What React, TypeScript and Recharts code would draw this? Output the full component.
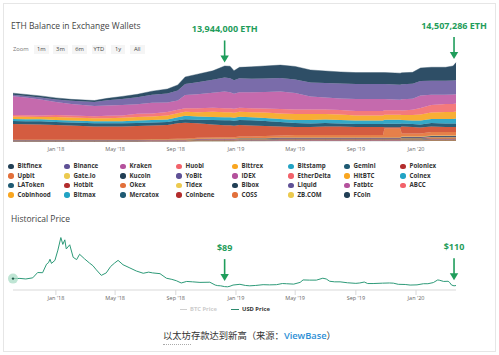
import React from "react";
import { AreaChart, Area, XAxis, YAxis, LineChart, Line, ReferenceDot } from "recharts";

const FONT = "'Open Sans', 'Noto Sans', sans-serif";
const CJK = "'Noto Sans CJK SC', 'Open Sans', sans-serif";
const GREEN = "#1f9d5b";

// ---------- ETH balance (millions of ETH) ----------
const balanceDates = [
  "2017-10-06","2017-11-01","2017-12-01","2018-01-01","2018-02-01","2018-03-20","2018-04-15","2018-05-15","2018-06-15","2018-07-15",
  "2018-08-15","2018-09-05","2018-09-20","2018-10-15","2018-11-15","2018-12-09","2018-12-20","2018-12-28","2019-01-08","2019-02-01",
  "2019-03-01","2019-04-01","2019-05-01","2019-06-01","2019-07-01","2019-08-01","2019-09-01","2019-10-01","2019-10-26","2019-10-29",
  "2019-11-30","2019-12-03","2019-12-25","2020-01-10","2020-02-01","2020-03-01","2020-03-16","2020-03-22",
];

const exchanges = [
  "Bitfinex","Binance","Kraken","Huobi","Bittrex","Bitstamp","Gemini","Poloniex",
  "Upbit","Gate.io","Kucoin","YoBit","IDEX","EtherDelta","HitBTC","Coinex",
  "LAToken","Hotbit","Okex","Tidex","Bibox","Liquid","Fatbtc","ABCC",
  "Cobinhood","Bitmax","Mercatox","Coinbene","COSS","ZB.COM","FCoin",
];

const dotColors = [
  "#213f55","#5f5196","#b4519c","#f2626a","#f9a620","#22a3c4","#1f5a73","#b32d2d",
  "#e2703b","#ecca4f","#213f55","#5f5196","#b4519c","#f2626a","#f9a620","#22a3c4",
  "#1f5a73","#b32d2d","#e2703b","#ecca4f","#213f55","#5f5196","#b4519c","#f2626a",
  "#f9a620","#22a3c4","#1f5a73","#b32d2d","#e2703b","#ecca4f","#213f55",
];

const areaColors = [
  "#2e4e66","#7a6caa","#c56aad","#f47a7c","#f8ae35","#34a9c8","#2a5f78","#d45c40",
  "#e6804a","#eccf62","#2e4e66","#7a6caa","#c56aad","#f47a7c","#f8ae35","#34a9c8",
  "#2a5f78","#d45c40","#e6804a","#eccf62","#2e4e66","#7a6caa","#c56aad","#f47a7c",
  "#f8ae35","#34a9c8","#2a5f78","#d45c40","#e6804a","#eccf62","#2e4e66",
];

const bitfinex = [
  0.28,0.28,0.28,0.28,0.28,0.28,0.37,0.46,0.56,0.65,
  0.83,1.02,1.30,1.48,1.67,2.13,2.22,1.76,2.04,2.22,
  2.31,2.41,2.41,2.31,2.22,2.13,2.09,2.13,2.13,2.13,
  2.13,2.13,2.13,2.41,2.50,2.50,2.68,3.26,
];
const binance = [
  0.28,0.28,0.37,0.46,0.56,0.74,0.93,1.11,1.30,1.48,
  1.67,1.85,2.04,2.22,2.41,2.59,2.59,2.50,2.59,2.50,
  2.50,2.50,2.50,2.59,2.68,2.78,2.78,2.78,2.78,2.78,
  2.78,2.78,2.78,2.68,2.59,2.59,2.59,2.59,
];
const kraken = [
  3.46,3.29,2.96,2.41,2.13,1.91,1.94,1.94,1.76,2.00,
  1.76,1.72,2.46,2.59,2.78,3.10,2.96,2.78,2.87,2.96,
  3.05,3.20,3.05,2.41,2.22,2.13,2.22,2.18,2.18,2.09,
  1.98,2.07,2.04,2.31,1.89,1.70,1.76,1.70,
];
const huobi = [
  0.28,0.28,0.28,0.37,0.37,0.37,0.46,0.46,0.56,0.56,
  0.65,0.65,0.65,0.74,0.74,0.74,0.74,0.74,0.74,0.74,
  0.74,0.83,0.83,0.83,0.83,0.83,0.83,0.83,0.83,0.83,
  0.83,0.83,0.93,1.20,1.39,1.48,1.48,1.48,
];
const bittrex = [
  0.46,0.46,0.46,0.56,0.56,0.56,0.56,0.65,0.65,0.65,
  0.74,0.74,0.74,0.83,0.93,0.93,0.93,0.93,0.93,0.93,
  1.02,1.02,1.11,1.11,1.02,1.02,0.93,0.93,0.93,0.93,
  0.93,0.93,1.02,1.11,1.20,1.30,1.30,1.30,
];
const bitstamp = [
  0.37,0.37,0.37,0.37,0.37,0.37,0.37,0.37,0.46,0.46,
  0.46,0.56,0.65,0.56,0.56,0.56,0.56,0.56,0.56,0.56,
  0.56,0.56,0.56,0.65,0.65,0.65,0.65,0.65,0.65,0.74,
  0.74,0.65,0.65,0.74,0.74,0.83,0.83,0.93,
];
const gemini = [
  0.56,0.56,0.56,0.56,0.56,0.56,0.56,0.56,0.56,0.56,
  0.56,0.56,0.65,0.65,0.83,0.93,0.93,0.93,0.93,0.93,
  0.93,0.83,0.74,0.65,0.65,0.56,0.56,0.56,0.56,0.65,
  0.65,0.56,0.56,0.56,0.65,0.65,0.65,0.65,
];
const poloniex = [
  2.87,2.81,2.78,2.68,2.59,2.41,2.41,2.41,2.50,2.50,
  2.59,2.87,2.96,2.68,2.41,2.22,2.22,2.13,2.13,2.04,
  1.85,1.67,1.48,1.48,1.57,1.57,1.48,1.48,1.48,0.19,
  0.19,1.30,1.20,1.11,1.02,0.93,0.93,0.93,
];
const upbit = [
  0.09,0.09,0.09,0.09,0.09,0.09,0.09,0.09,0.09,0.09,
  0.09,0.13,0.13,0.19,0.19,0.22,0.22,0.22,0.28,0.28,
  0.37,0.37,0.46,0.46,0.46,0.46,0.46,0.46,0.46,1.67,
  1.67,0.56,0.56,0.56,0.65,0.65,0.65,0.65,
];
const gateio = [
  0.03,0.03,0.03,0.03,0.03,0.03,0.03,0.03,0.03,
  0.04,0.04,0.04,0.04,
  0.05,0.06,0.06,0.06,0.06,
  0.07,0.07,0.07,
  0.08,0.08,0.08,0.08,0.08,0.08,0.08,0.08,0.08,0.08,
  0.09,0.10,0.10,
  0.12,0.12,0.12,0.12,
];
const kucoin = [
  0.01,0.01,0.01,0.01,0.01,0.01,0.01,0.01,0.01,
  0.02,0.02,0.02,0.02,
  0.03,0.04,0.04,0.04,0.04,
  0.05,0.05,0.05,
  0.06,0.06,0.06,0.06,0.06,0.06,0.06,0.06,0.06,0.06,
  0.07,0.08,0.08,
  0.10,0.10,0.10,0.10,
];
const yobit = [
  0.02,0.02,0.02,0.02,0.02,0.02,0.02,0.02,0.02,
  0.02,0.02,0.02,0.02,
  0.02,0.02,0.02,0.02,0.02,
  0.02,0.02,0.02,
  0.02,0.02,0.02,0.02,0.02,0.02,0.02,0.02,0.02,0.02,
  0.02,0.02,0.02,
  0.02,0.02,0.02,0.02,
];
const idex = [
  0.04,0.04,0.04,0.04,0.04,0.04,0.04,0.04,0.04,
  0.04,0.04,0.04,0.04,
  0.04,0.04,0.04,0.04,0.04,
  0.03,0.03,0.03,
  0.03,0.03,0.03,0.03,0.03,0.03,0.03,0.03,0.03,0.03,
  0.03,0.03,0.03,
  0.03,0.03,0.03,0.03,
];
const etherdelta = [
  0.03,0.03,0.03,0.03,0.03,0.03,0.03,0.03,0.03,
  0.03,0.03,0.03,0.03,
  0.02,0.02,0.02,0.02,0.02,
  0.02,0.02,0.02,
  0.01,0.01,0.01,0.01,0.01,0.01,0.01,0.01,0.01,0.01,
  0.01,0.01,0.01,
  0.01,0.01,0.01,0.01,
];
const hitbtc = [
  0.02,0.02,0.02,0.02,0.02,0.02,0.02,0.02,0.02,
  0.02,0.02,0.02,0.02,
  0.03,0.04,0.04,0.04,0.04,
  0.05,0.05,0.05,
  0.06,0.06,0.06,0.06,0.06,0.06,0.06,0.06,0.06,0.06,
  0.07,0.08,0.08,
  0.10,0.10,0.10,0.10,
];
const coinex = [
  0,0,0,0,0,0,0,0,0,
  0.005,0.005,0.005,0.005,
  0.01,0.01,0.01,0.01,0.01,
  0.02,0.02,0.02,
  0.02,0.02,0.02,0.02,0.02,0.02,0.02,0.02,0.02,0.02,
  0.03,0.03,0.03,
  0.03,0.03,0.03,0.03,
];
const latoken = [
  0.005,0.005,0.005,0.005,0.005,0.005,0.005,0.005,0.005,
  0.01,0.01,0.01,0.01,
  0.02,0.02,0.02,0.02,0.02,
  0.02,0.02,0.02,
  0.02,0.02,0.02,0.02,0.02,0.02,0.02,0.02,0.02,0.02,
  0.03,0.03,0.03,
  0.03,0.03,0.03,0.03,
];
const hotbit = [
  0,0,0,0,0,0,0,0,0,
  0,0,0,0,
  0.01,0.01,0.01,0.01,0.01,
  0.02,0.02,0.02,
  0.03,0.03,0.03,0.03,0.03,0.03,0.03,0.03,0.03,0.03,
  0.04,0.04,0.04,
  0.05,0.05,0.05,0.05,
];
const okex = [
  0.02,0.02,0.02,0.02,0.02,0.02,0.02,0.02,0.02,
  0.03,0.03,0.03,0.03,
  0.05,0.06,0.06,0.06,0.06,
  0.07,0.07,0.07,
  0.08,0.08,0.08,0.08,0.08,0.08,0.08,0.08,0.08,0.08,
  0.10,0.10,0.10,
  0.13,0.13,0.13,0.13,
];
const tidex = [
  0.005,0.005,0.005,0.005,0.005,0.005,0.005,0.005,0.005,
  0.005,0.005,0.005,0.005,
  0.005,0.005,0.005,0.005,0.005,
  0.005,0.005,0.005,
  0.005,0.005,0.005,0.005,0.005,0.005,0.005,0.005,0.005,0.005,
  0.005,0.005,0.005,
  0.005,0.005,0.005,0.005,
];
const bibox = [
  0.005,0.005,0.005,0.005,0.005,0.005,0.005,0.005,0.005,
  0.01,0.01,0.01,0.01,
  0.02,0.02,0.02,0.02,0.02,
  0.02,0.02,0.02,
  0.03,0.03,0.03,0.03,0.03,0.03,0.03,0.03,0.03,0.03,
  0.03,0.03,0.03,
  0.03,0.03,0.03,0.03,
];
const liquid = [
  0.01,0.01,0.01,0.01,0.01,0.01,0.01,0.01,0.01,
  0.02,0.02,0.02,0.02,
  0.03,0.03,0.03,0.03,0.03,
  0.03,0.03,0.03,
  0.04,0.04,0.04,0.04,0.04,0.04,0.04,0.04,0.04,0.04,
  0.05,0.05,0.05,
  0.06,0.06,0.06,0.06,
];
const fatbtc = [
  0,0,0,0,0,0,0,0,0,
  0,0,0,0,
  0.01,0.01,0.01,0.01,0.01,
  0.02,0.02,0.02,
  0.02,0.02,0.02,0.02,0.02,0.02,0.02,0.02,0.02,0.02,
  0.03,0.03,0.03,
  0.03,0.03,0.03,0.03,
];
const abcc = [
  0,0,0,0,0,0,0,0,0,
  0.005,0.005,0.005,0.005,
  0.01,0.01,0.01,0.01,0.01,
  0.01,0.01,0.01,
  0.01,0.01,0.01,0.01,0.01,0.01,0.01,0.01,0.01,0.01,
  0.02,0.02,0.02,
  0.02,0.02,0.02,0.02,
];
const cobinhood = [
  0,0,0,0,0,0,0,0,0,
  0.005,0.005,0.005,0.005,
  0.01,0.01,0.01,0.01,0.01,
  0.01,0.01,0.01,
  0.01,0.01,0.01,0.01,0.01,0.01,0.01,0.01,0.01,0.01,
  0.01,0.01,0.01,
  0.01,0.01,0.01,0.01,
];
const bitmax = [
  0,0,0,0,0,0,0,0,0,
  0,0,0,0,
  0,0,0,0,0,
  0.005,0.005,0.005,
  0.01,0.01,0.01,0.01,0.01,0.01,0.01,0.01,0.01,0.01,
  0.02,0.02,0.02,
  0.03,0.03,0.03,0.03,
];
const mercatox = [
  0.005,0.005,0.005,0.005,0.005,0.005,0.005,0.005,0.005,
  0.005,0.005,0.005,0.005,
  0.01,0.01,0.01,0.01,0.01,
  0.01,0.01,0.01,
  0.01,0.01,0.01,0.01,0.01,0.01,0.01,0.01,0.01,0.01,
  0.01,0.01,0.01,
  0.01,0.01,0.01,0.01,
];
const coinbene = [
  0,0,0,0,0,0,0,0,0,
  0,0,0,0,
  0.01,0.01,0.01,0.01,0.01,
  0.02,0.02,0.02,
  0.03,0.03,0.03,0.03,0.03,0.03,0.03,0.03,0.03,0.03,
  0.04,0.04,0.04,
  0.05,0.05,0.05,0.05,
];
const coss = [
  0,0,0,0,0,0,0,0,0,
  0.005,0.005,0.005,0.005,
  0.01,0.01,0.01,0.01,0.01,
  0.01,0.01,0.01,
  0.01,0.01,0.01,0.01,0.01,0.01,0.01,0.01,0.01,0.01,
  0.01,0.01,0.01,
  0.01,0.01,0.01,0.01,
];
const zbcom = [
  0.005,0.005,0.005,0.005,0.005,0.005,0.005,0.005,0.005,
  0.01,0.01,0.01,0.01,
  0.02,0.02,0.02,0.02,0.02,
  0.03,0.03,0.03,
  0.04,0.04,0.04,0.04,0.04,0.04,0.04,0.04,0.04,0.04,
  0.05,0.05,0.05,
  0.05,0.05,0.05,0.05,
];
const fcoin = [
  0,0,0,0,0,0,0,0,0,
  0,0,0,0,
  0.02,0.02,0.02,0.02,0.02,
  0.03,0.03,0.03,
  0.04,0.04,0.04,0.04,0.04,0.04,0.04,0.04,0.04,0.04,
  0.05,0.05,0.05,
  0.10,0.10,0.10,0.10,
];

const exchangeValues = [
  bitfinex, binance, kraken, huobi, bittrex, bitstamp, gemini, poloniex,
  upbit, gateio, kucoin, yobit, idex, etherdelta, hitbtc, coinex,
  latoken, hotbit, okex, tidex, bibox, liquid, fatbtc, abcc,
  cobinhood, bitmax, mercatox, coinbene, coss, zbcom, fcoin,
];

// ---------- Historical price (USD) ----------
const priceDates = [
  "2017-10-06","2017-10-20","2017-11-01","2017-11-15","2017-11-25","2017-12-05","2017-12-13","2017-12-17","2017-12-20","2017-12-23",
  "2017-12-30","2018-01-05","2018-01-11","2018-01-15","2018-01-19","2018-01-22","2018-01-29","2018-02-05","2018-02-12","2018-02-18",
  "2018-02-28","2018-03-10","2018-03-17","2018-03-24","2018-04-03","2018-04-13","2018-04-22","2018-04-30","2018-05-07","2018-05-17",
  "2018-05-31","2018-06-13","2018-06-27","2018-07-08","2018-07-16","2018-07-31","2018-08-13","2018-08-24","2018-09-02","2018-09-12",
  "2018-09-23","2018-10-05","2018-10-20","2018-11-09","2018-11-20","2018-11-25","2018-12-01","2018-12-09","2018-12-15","2018-12-20",
  "2018-12-26","2019-01-09","2019-01-20","2019-01-29","2019-02-10","2019-02-25","2019-03-10","2019-03-24","2019-04-05","2019-04-13",
  "2019-04-28","2019-05-11","2019-05-17","2019-05-30","2019-06-13","2019-06-26","2019-07-03","2019-07-10","2019-07-20","2019-07-31",
  "2019-08-15","2019-09-01","2019-09-09","2019-09-18","2019-09-25","2019-10-06","2019-10-25","2019-11-08","2019-11-16","2019-11-26",
  "2019-12-10","2019-12-20","2020-01-03","2020-01-16","2020-01-25","2020-02-05","2020-02-14","2020-02-18","2020-02-26","2020-03-06",
  "2020-03-09","2020-03-13","2020-03-18","2020-03-22",
];
const usdPrice = [
  300,305,290,320,460,455,680,720,810,700,
  780,1050,1380,1200,1320,1080,1190,860,800,940,
  820,710,640,530,385,450,620,710,780,665,
  580,500,440,470,450,430,310,280,245,185,
  225,215,200,205,130,115,110,89,84,100,
  130,150,120,110,120,140,135,140,170,165,
  155,200,265,260,260,310,290,230,215,215,
  190,175,185,210,170,170,180,185,180,150,
  145,130,135,165,165,195,265,255,225,230,
  200,130,110,118,
];

// ---------- Axis ----------
const tickDates = ["2018-01-01","2018-05-01","2018-09-01","2019-01-01","2019-05-01","2019-09-01","2020-01-01"];
const tickLabels = ["Jan '18","May '18","Sep '18","Jan '19","May '19","Sep '19","Jan '20"];
const axisStart = "2017-10-06";
const axisEnd = "2020-03-22";
const zoomButtons = ["1m","3m","6m","YTD","1y","All"];
const ethCallouts = [
  { date: "2018-12-09", row: 15, label: "13,944,000 ETH" },
  { date: "2020-03-18", row: 37, label: "14,507,286 ETH" },
];
const priceCallouts = [
  { date: "2018-12-09", value: 89, label: "$89" },
  { date: "2020-03-18", value: 110, label: "$110" },
];

const tickTimes = tickDates.map((d) => Date.parse(d));
const T0 = Date.parse(axisStart);
const T1 = Date.parse(axisEnd);
const fmtTick = (v: number) => tickLabels[tickTimes.indexOf(v)] ?? "";

const balanceRows = balanceDates.map((d, i) => {
  const row: any = { t: Date.parse(d) };
  exchangeValues.forEach((arr, k) => { row["s" + k] = arr[i] ?? 0; });
  return row;
});
const rowTotal = (i: number) => exchangeValues.reduce((s, arr) => s + (arr[i] ?? 0), 0);
const priceRows = priceDates.map((d, i) => ({ t: Date.parse(d), usd: usdPrice[i] }));

const Callout = ({ cx, cy, label, gap }: any) => {
  const tip = cy - gap;
  return (
    <g>
      <text x={cx} y={tip - 34} textAnchor="middle" dominantBaseline="central" fill={GREEN}
        fontSize={9} fontWeight={700} fontFamily={FONT}>{label}</text>
      <line x1={cx} y1={tip - 22} x2={cx} y2={tip - 5} stroke={GREEN} strokeWidth={1.6} />
      <path d={`M${cx - 4.2},${tip - 7} L${cx + 4.2},${tip - 7} L${cx},${tip} Z`} fill={GREEN} />
    </g>
  );
};

const Halo = ({ cx, cy }: any) => (
  <g>
    <circle cx={cx} cy={cy} r={5} fill="#a9dcc5" fillOpacity={0.75} />
    <circle cx={cx} cy={cy} r={1.2} fill="#245c4c" />
  </g>
);

const tickStyle = { fontSize: 5.5, fill: "#666", fontFamily: FONT };

export default function App() {
  const order = exchanges.map((_, k) => k).reverse();
  return (
    <div style={{ position: "absolute", left: 0, top: 0, width: 499, height: 355, background: "#fff", fontFamily: FONT, overflow: "hidden" }}>
      <div style={{ position: "absolute", left: 3, top: 3, width: 493, height: 349, border: "1px solid #e6e6e6", boxSizing: "border-box" }} />

      <div style={{ position: "absolute", left: 11, top: 20, height: 12, lineHeight: "12px", fontSize: 8.5, color: "#444", whiteSpace: "nowrap" }}>
        ETH Balance in Exchange Wallets
      </div>
      <div style={{ position: "absolute", left: 13, top: 45, height: 9, lineHeight: "9px", fontSize: 5.8, color: "#777" }}>Zoom</div>
      {zoomButtons.map((b, i) => (
        <div key={b} style={{ position: "absolute", left: 34 + i * 19.2, top: 45, width: 14.5, height: 9, lineHeight: "9px", fontSize: 5.8,
          color: "#444", background: "#f5f5f5", textAlign: "center" }}>{b}</div>
      ))}

      <div style={{ position: "absolute", left: 0, top: 0 }}>
        <AreaChart width={499} height={160} data={balanceRows} margin={{ top: 60, right: 43, bottom: 0, left: 13 }}>
          <XAxis type="number" dataKey="t" domain={[T0, T1]} ticks={tickTimes} interval={0} tickFormatter={fmtTick}
            axisLine={false} tickLine={false} tickSize={5} tickMargin={1} height={19} tick={tickStyle} />
          <YAxis hide domain={[0, 15]} />
          {order.map((k) => (
            <Area key={k} type="linear" dataKey={"s" + k} stackId="eth" stroke={areaColors[k]} strokeWidth={0.4}
              fill={areaColors[k]} fillOpacity={1} isAnimationActive={false} dot={false} activeDot={false} />
          ))}
          {ethCallouts.map((c) => (
            <ReferenceDot key={c.label} x={Date.parse(c.date)} y={rowTotal(c.row)} r={1} ifOverflow="visible"
              shape={(p: any) => <Callout cx={p.cx} cy={p.cy} label={c.label} gap={3.5} />} />
          ))}
        </AreaChart>
      </div>

      {exchanges.map((name, i) => {
        const col = i % 8;
        const row = Math.floor(i / 8);
        const cx = 11 + col * 56;
        const cy = 166.3 + row * 9.57;
        return (
          <React.Fragment key={name}>
            <div style={{ position: "absolute", left: cx - 2.7, top: cy - 2.7, width: 5.4, height: 5.4, borderRadius: "50%", background: dotColors[i] }} />
            <div style={{ position: "absolute", left: cx + 6.5, top: cy - 5, height: 10, lineHeight: "10px", fontSize: 6.2, fontWeight: 700,
              color: "#333", whiteSpace: "nowrap" }}>{name}</div>
          </React.Fragment>
        );
      })}

      <div style={{ position: "absolute", left: 11, top: 213, height: 12, lineHeight: "12px", fontSize: 8.5, color: "#444", whiteSpace: "nowrap" }}>
        Historical Price
      </div>

      <div style={{ position: "absolute", left: 0, top: 225 }}>
        <LineChart width={499} height={80} data={priceRows} margin={{ top: 8, right: 43, bottom: 0, left: 13 }}>
          <XAxis type="number" dataKey="t" domain={[T0, T1]} ticks={tickTimes} interval={0} tickFormatter={fmtTick}
            axisLine={{ stroke: "#d9d9d9" }} tickLine={{ stroke: "#d9d9d9" }} tickSize={5} tickMargin={1} height={15} tick={tickStyle} />
          <YAxis hide domain={[0, 1500]} />
          <Line type="linear" dataKey="usd" stroke="#2d9a78" strokeWidth={1} dot={false} activeDot={false} isAnimationActive={false} />
          <ReferenceDot x={priceRows[0].t} y={priceRows[0].usd} r={1} ifOverflow="visible" shape={(p: any) => <Halo cx={p.cx} cy={p.cy} />} />
          {priceCallouts.map((c) => (
            <ReferenceDot key={c.label} x={Date.parse(c.date)} y={c.value} r={1} ifOverflow="visible"
              shape={(p: any) => <Callout cx={p.cx} cy={p.cy} label={c.label} gap={5.5} />} />
          ))}
        </LineChart>
      </div>

      <div style={{ position: "absolute", left: 180, top: 309, width: 7, height: 1, background: "#cfcfcf" }} />
      <div style={{ position: "absolute", left: 190, top: 304.5, height: 9, lineHeight: "9px", fontSize: 5.8, fontWeight: 700, color: "#cccccc", whiteSpace: "nowrap" }}>BTC Price</div>
      <div style={{ position: "absolute", left: 231, top: 308.8, width: 8, height: 1.3, background: "#2d8a6e" }} />
      <div style={{ position: "absolute", left: 242, top: 304.5, height: 9, lineHeight: "9px", fontSize: 5.8, fontWeight: 700, color: "#333", whiteSpace: "nowrap" }}>USD Price</div>

      <div style={{ position: "absolute", left: 163, top: 328, height: 14, lineHeight: "14px", fontSize: 9.3, color: "#333", fontFamily: CJK, whiteSpace: "nowrap" }}>
        以太坊存款达到新高（来源：<span style={{ color: "#2d8fd5", fontFamily: FONT, fontWeight: 600 }}>ViewBase</span>）
      </div>
      <div style={{ position: "absolute", left: 163, top: 343.5, width: 28, height: 0, borderBottom: "1px dotted #aaa" }} />
    </div>
  );
}
